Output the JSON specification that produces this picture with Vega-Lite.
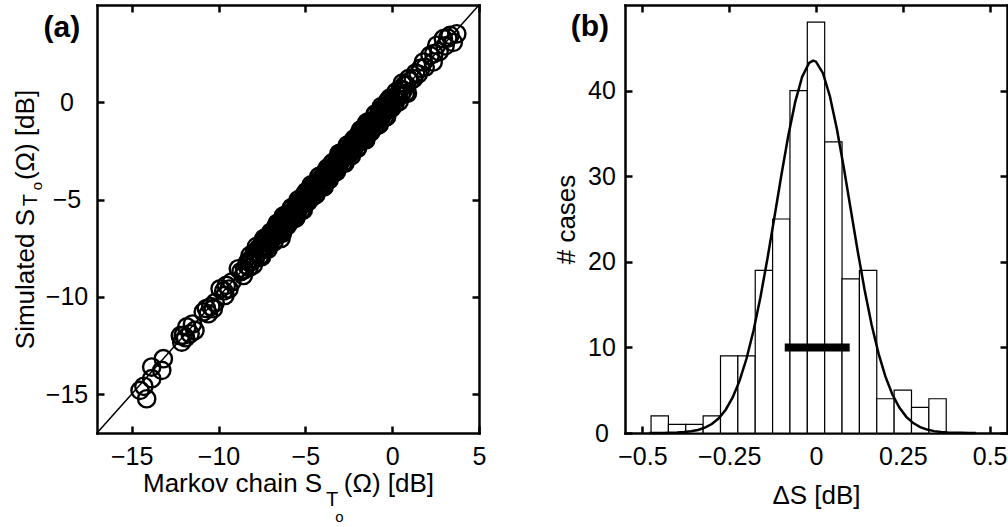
{
  "$schema": "https://vega.github.io/schema/vega-lite/v6.json",
  "background": "white",
  "padding": {"left": 12, "top": 2, "right": 0, "bottom": 0},
  "spacing": 67,
  "config": {
    "view": {"stroke": null},
    "font": "Liberation Sans",
    "axis": {
      "grid": false,
      "domainColor": "black", "domainWidth": 2.5, "domainCap": "square",
      "tickColor": "black", "tickWidth": 2.5, "tickSize": -7,
      "labelFont": "Liberation Sans", "labelFontSize": 25, "labelColor": "black",
      "labelFlush": false, "labelOverlap": false, "labelBound": false,
      "titleFont": "Liberation Sans", "titleFontSize": 26, "titleFontWeight": "normal", "titleColor": "black"
    }
  },
  "datasets": {
    "scatter": [
      {"m":-14.52,"s":-14.81},{"m":-14.14,"s":-15.24},{"m":-13.85,"s":-14.21},{"m":-13.85,"s":-13.61},{"m":-13.27,"s":-13.78},{"m":-13.18,"s":-13.18},{"m":-14.3,"s":-14.6},
      {"m":-12.12,"s":-12.33},{"m":-12.03,"s":-11.98},{"m":-11.83,"s":-11.55},{"m":-11.64,"s":-11.9},{"m":-11.36,"s":-11.73},{"m":-12.2,"s":-12.0},{"m":-11.5,"s":-11.4},{"m":-11.9,"s":-12.1},
      {"m":-10.88,"s":-10.78},{"m":-10.59,"s":-10.87},{"m":-10.3,"s":-10.61},{"m":-10.7,"s":-10.6},{"m":-10.45,"s":-10.5},{"m":-10.2,"s":-10.3},
      {"m":-9.91,"s":-9.59},{"m":-9.63,"s":-9.93},{"m":-9.55,"s":-9.41},{"m":-9.24,"s":-9.24},{"m":-9.7,"s":-9.7},{"m":-9.4,"s":-9.6},
      {"m":-8.86,"s":-8.56},{"m":-8.57,"s":-8.9},{"m":-8.38,"s":-8.38},{"m":-8.7,"s":-8.7},{"m":-8.5,"s":-8.6},{"m":-6.4,"s":-7.0},
      {"m":-8.30,"s":-8.18},{"m":-8.24,"s":-8.49},{"m":-8.18,"s":-7.87},{"m":-8.12,"s":-8.20},{"m":-8.06,"s":-8.04},{"m":-8.00,"s":-8.36},{"m":-7.94,"s":-7.72},{"m":-7.88,"s":-8.03},{"m":-7.82,"s":-7.42},{"m":-7.76,"s":-7.78},
      {"m":-7.70,"s":-7.52},{"m":-7.64,"s":-7.94},{"m":-7.58,"s":-7.51},{"m":-7.52,"s":-7.94},{"m":-7.46,"s":-7.19},{"m":-7.40,"s":-7.52},{"m":-7.34,"s":-6.99},{"m":-7.28,"s":-7.48},{"m":-7.22,"s":-7.17},{"m":-7.16,"s":-7.21},
      {"m":-7.10,"s":-6.98},{"m":-7.04,"s":-7.29},{"m":-6.98,"s":-6.67},{"m":-6.92,"s":-7.00},{"m":-6.86,"s":-6.84},{"m":-6.80,"s":-7.16},{"m":-6.74,"s":-6.52},{"m":-6.68,"s":-6.83},{"m":-6.62,"s":-6.22},{"m":-6.56,"s":-6.58},
      {"m":-6.50,"s":-6.32},{"m":-6.44,"s":-6.74},{"m":-6.38,"s":-6.31},{"m":-6.32,"s":-6.74},{"m":-6.26,"s":-5.99},{"m":-6.20,"s":-6.32},{"m":-6.14,"s":-5.79},{"m":-6.08,"s":-6.28},{"m":-6.02,"s":-5.97},{"m":-5.96,"s":-6.01},
      {"m":-5.90,"s":-5.78},{"m":-5.84,"s":-6.09},{"m":-5.78,"s":-5.47},{"m":-5.72,"s":-5.80},{"m":-5.66,"s":-5.64},{"m":-5.60,"s":-5.96},{"m":-5.54,"s":-5.32},{"m":-5.48,"s":-5.63},{"m":-5.42,"s":-5.02},{"m":-5.36,"s":-5.38},
      {"m":-5.30,"s":-5.12},{"m":-5.24,"s":-5.54},{"m":-5.18,"s":-5.11},{"m":-5.12,"s":-5.54},{"m":-5.06,"s":-4.79},{"m":-5.00,"s":-5.12},{"m":-4.94,"s":-4.59},{"m":-4.88,"s":-5.08},{"m":-4.82,"s":-4.77},{"m":-4.76,"s":-4.81},
      {"m":-4.70,"s":-4.58},{"m":-4.64,"s":-4.89},{"m":-4.58,"s":-4.27},{"m":-4.52,"s":-4.60},{"m":-4.46,"s":-4.44},{"m":-4.40,"s":-4.76},{"m":-4.34,"s":-4.12},{"m":-4.28,"s":-4.43},{"m":-4.22,"s":-3.82},{"m":-4.16,"s":-4.18},
      {"m":-4.10,"s":-3.92},{"m":-4.04,"s":-4.34},{"m":-3.98,"s":-3.91},{"m":-3.92,"s":-4.34},{"m":-3.86,"s":-3.59},{"m":-3.80,"s":-3.92},{"m":-3.74,"s":-3.39},{"m":-3.68,"s":-3.88},{"m":-3.62,"s":-3.57},{"m":-3.56,"s":-3.61},
      {"m":-3.50,"s":-3.38},{"m":-3.44,"s":-3.69},{"m":-3.38,"s":-3.07},{"m":-3.32,"s":-3.40},{"m":-3.26,"s":-3.24},{"m":-3.20,"s":-3.56},{"m":-3.14,"s":-2.92},{"m":-3.08,"s":-3.23},{"m":-3.02,"s":-2.62},{"m":-2.96,"s":-2.98},
      {"m":-2.90,"s":-2.72},{"m":-2.84,"s":-3.14},{"m":-2.78,"s":-2.71},{"m":-2.72,"s":-3.14},{"m":-2.66,"s":-2.39},{"m":-2.60,"s":-2.72},{"m":-2.54,"s":-2.19},{"m":-2.48,"s":-2.68},{"m":-2.42,"s":-2.37},{"m":-2.36,"s":-2.41},
      {"m":-2.30,"s":-2.18},{"m":-2.24,"s":-2.49},{"m":-2.18,"s":-1.87},{"m":-2.12,"s":-2.20},{"m":-2.06,"s":-2.04},{"m":-2.00,"s":-2.36},{"m":-1.94,"s":-1.72},{"m":-1.88,"s":-2.03},{"m":-1.82,"s":-1.42},{"m":-1.76,"s":-1.78},
      {"m":-1.70,"s":-1.52},{"m":-1.64,"s":-1.94},{"m":-1.58,"s":-1.51},{"m":-1.52,"s":-1.94},{"m":-1.46,"s":-1.19},{"m":-1.40,"s":-1.52},{"m":-1.34,"s":-0.99},{"m":-1.28,"s":-1.48},{"m":-1.22,"s":-1.17},{"m":-1.16,"s":-1.21},
      {"m":-1.10,"s":-0.98},{"m":-1.04,"s":-1.29},{"m":-0.98,"s":-0.67},{"m":-0.92,"s":-1.00},{"m":-0.86,"s":-0.84},{"m":-0.80,"s":-1.16},{"m":-0.74,"s":-0.52},{"m":-0.68,"s":-0.83},{"m":-0.62,"s":-0.22},{"m":-0.56,"s":-0.58},
      {"m":-0.50,"s":-0.32},{"m":-0.44,"s":-0.74},{"m":-0.38,"s":-0.31},{"m":-0.32,"s":-0.74},{"m":-0.26,"s":0.01},{"m":-0.20,"s":-0.32},{"m":-0.14,"s":0.21},{"m":-0.08,"s":-0.28},{"m":-0.02,"s":0.03},{"m":0.04,"s":-0.01},
      {"m":0.10,"s":0.22},{"m":0.16,"s":-0.09},{"m":0.22,"s":0.53},{"m":0.28,"s":0.20},{"m":0.34,"s":0.36},{"m":0.40,"s":0.04},{"m":0.46,"s":0.68},{"m":0.52,"s":0.37},{"m":0.58,"s":0.98},{"m":0.64,"s":0.62},
      {"m":0.70,"s":0.88},{"m":0.76,"s":0.46},{"m":0.82,"s":0.89},{"m":0.88,"s":0.46},{"m":0.94,"s":1.21},
      {"m":1.05,"s":1.1},{"m":1.22,"s":1.21},{"m":1.35,"s":1.5},{"m":1.5,"s":1.45},{"m":1.65,"s":1.75},{"m":1.80,"s":2.07},{"m":1.9,"s":1.8},{"m":2.18,"s":2.41},{"m":2.36,"s":2.07},{"m":2.4,"s":2.5},
      {"m":2.57,"s":2.93},{"m":2.7,"s":2.6},{"m":2.95,"s":3.27},{"m":3.05,"s":2.9},{"m":3.2,"s":3.3},{"m":3.33,"s":3.44},{"m":3.52,"s":3.08},{"m":3.72,"s":3.52},
      {"m":-7.63,"s":-7.93},{"m":-7.55,"s":-7.40},{"m":-7.47,"s":-7.52},{"m":-7.39,"s":-7.01},{"m":-7.31,"s":-7.53},{"m":-7.23,"s":-7.13},{"m":-7.15,"s":-7.55},{"m":-7.07,"s":-6.79},{"m":-6.99,"s":-7.11},{"m":-6.91,"s":-6.71},
      {"m":-6.83,"s":-7.18},{"m":-6.75,"s":-6.75},{"m":-6.67,"s":-6.35},{"m":-6.59,"s":-6.77},{"m":-6.51,"s":-6.43},{"m":-6.43,"s":-6.70},{"m":-6.35,"s":-6.22},{"m":-6.27,"s":-5.85},{"m":-6.19,"s":-6.29},{"m":-6.11,"s":-5.86},
      {"m":-6.03,"s":-6.33},{"m":-5.95,"s":-5.80},{"m":-5.87,"s":-5.92},{"m":-5.79,"s":-5.41},{"m":-5.71,"s":-5.93},{"m":-5.63,"s":-5.53},{"m":-5.55,"s":-5.95},{"m":-5.47,"s":-5.19},{"m":-5.39,"s":-5.51},{"m":-5.31,"s":-5.11},
      {"m":-5.23,"s":-5.58},{"m":-5.15,"s":-5.15},{"m":-5.07,"s":-4.75},{"m":-4.99,"s":-5.17},{"m":-4.91,"s":-4.83},{"m":-4.83,"s":-5.10},{"m":-4.75,"s":-4.62},{"m":-4.67,"s":-4.25},{"m":-4.59,"s":-4.69},{"m":-4.51,"s":-4.26},
      {"m":-4.43,"s":-4.73},{"m":-4.35,"s":-4.20},{"m":-4.27,"s":-4.32},{"m":-4.19,"s":-3.81},{"m":-4.11,"s":-4.33},{"m":-4.03,"s":-3.93},{"m":-3.95,"s":-4.35},{"m":-3.87,"s":-3.59},{"m":-3.79,"s":-3.91},{"m":-3.71,"s":-3.51},
      {"m":-3.63,"s":-3.98},{"m":-3.55,"s":-3.55},{"m":-3.47,"s":-3.15},{"m":-3.39,"s":-3.57},{"m":-3.31,"s":-3.23},{"m":-3.23,"s":-3.50},{"m":-3.15,"s":-3.02},{"m":-3.07,"s":-2.65},{"m":-2.99,"s":-3.09},{"m":-2.91,"s":-2.66},
      {"m":-2.83,"s":-3.13},{"m":-2.75,"s":-2.60},{"m":-2.67,"s":-2.72},{"m":-2.59,"s":-2.21},{"m":-2.51,"s":-2.73},{"m":-2.43,"s":-2.33},{"m":-2.35,"s":-2.75},{"m":-2.27,"s":-1.99},{"m":-2.19,"s":-2.31},{"m":-2.11,"s":-1.91},
      {"m":-2.03,"s":-2.38},{"m":-1.95,"s":-1.95},{"m":-1.87,"s":-1.55},{"m":-1.79,"s":-1.97},{"m":-1.71,"s":-1.63},{"m":-1.63,"s":-1.90},{"m":-1.55,"s":-1.42},{"m":-1.47,"s":-1.05},{"m":-1.39,"s":-1.49},{"m":-1.31,"s":-1.06},
      {"m":-1.23,"s":-1.53},{"m":-1.15,"s":-1.00},{"m":-1.07,"s":-1.12},{"m":-0.99,"s":-0.61},{"m":-0.91,"s":-1.13},{"m":-0.83,"s":-0.73},{"m":-0.75,"s":-1.15},{"m":-0.67,"s":-0.39},{"m":-0.59,"s":-0.71},{"m":-0.51,"s":-0.31},
      {"m":-0.43,"s":-0.78},{"m":-0.35,"s":-0.35},{"m":-0.27,"s":0.05},{"m":-0.19,"s":-0.37},{"m":-0.11,"s":-0.03},{"m":-0.03,"s":-0.30}
    ],
    "hist": [
      {"lo":-0.475,"hi":-0.425,"n":2},{"lo":-0.425,"hi":-0.375,"n":1},{"lo":-0.375,"hi":-0.325,"n":1},{"lo":-0.325,"hi":-0.275,"n":2},
      {"lo":-0.275,"hi":-0.225,"n":9},{"lo":-0.225,"hi":-0.175,"n":9},{"lo":-0.175,"hi":-0.125,"n":19},{"lo":-0.125,"hi":-0.075,"n":25},
      {"lo":-0.075,"hi":-0.025,"n":40},{"lo":-0.025,"hi":0.025,"n":48},{"lo":0.025,"hi":0.075,"n":34},{"lo":0.075,"hi":0.125,"n":18},
      {"lo":0.125,"hi":0.175,"n":19},{"lo":0.175,"hi":0.225,"n":4},{"lo":0.225,"hi":0.275,"n":5},{"lo":0.275,"hi":0.325,"n":3},{"lo":0.325,"hi":0.375,"n":4}
    ],
    "fit": [
      {"dx":-0.48,"f":0.003},{"dx":-0.46,"f":0.006},{"dx":-0.44,"f":0.013},{"dx":-0.42,"f":0.026},{"dx":-0.40,"f":0.053},{"dx":-0.38,"f":0.104},
      {"dx":-0.36,"f":0.195},{"dx":-0.34,"f":0.354},{"dx":-0.32,"f":0.62},{"dx":-0.30,"f":1.05},{"dx":-0.28,"f":1.72},{"dx":-0.26,"f":2.72},
      {"dx":-0.24,"f":4.15},{"dx":-0.22,"f":6.11},{"dx":-0.20,"f":8.70},{"dx":-0.18,"f":11.95},{"dx":-0.16,"f":15.86},{"dx":-0.14,"f":20.33},
      {"dx":-0.12,"f":25.15},{"dx":-0.10,"f":30.06},{"dx":-0.08,"f":34.69},{"dx":-0.06,"f":38.65},{"dx":-0.04,"f":41.60},{"dx":-0.02,"f":43.23},
      {"dx":-0.008,"f":43.5},{"dx":0.00,"f":43.38},{"dx":0.02,"f":42.03},{"dx":0.04,"f":39.34},{"dx":0.06,"f":35.55},{"dx":0.08,"f":31.02},{"dx":0.10,"f":26.14},
      {"dx":0.12,"f":21.27},{"dx":0.14,"f":16.71},{"dx":0.16,"f":12.68},{"dx":0.18,"f":9.30},{"dx":0.20,"f":6.58},{"dx":0.22,"f":4.49},
      {"dx":0.24,"f":2.97},{"dx":0.26,"f":1.89},{"dx":0.28,"f":1.16},{"dx":0.30,"f":0.69},{"dx":0.32,"f":0.40},{"dx":0.34,"f":0.22},
      {"dx":0.36,"f":0.117},{"dx":0.38,"f":0.061},{"dx":0.40,"f":0.030},{"dx":0.42,"f":0.015},{"dx":0.44,"f":0.007},{"dx":0.46,"f":0.003}
    ]
  },
  "hconcat": [
    {
      "width": 382, "height": 428,
      "layer": [
        {
          "data": {"values": [{"m":-17,"s":-17},{"m":5,"s":5}]},
          "mark": {"type": "line", "color": "black", "strokeWidth": 1.5},
          "encoding": {
            "x": {"field": "m", "type": "quantitative", "scale": {"domain": [-17, 5], "nice": false, "zero": false},
                  "axis": {"orient": "bottom", "values": [-15,-10,-5,0,5], "format": "d", "title": "Markov chain S\u00a0\u00a0\u00a0(Ω) [dB]", "labelPadding": 18.5, "titlePadding": 1}},
            "y": {"field": "s", "type": "quantitative", "scale": {"domain": [-17, 5], "nice": false, "zero": false},
                  "axis": {"orient": "left", "values": [-15,-10,-5,0], "format": "d", "title": "Simulated S\u00a0\u00a0\u00a0\u00a0(Ω) [dB]", "labelAlign": "center", "labelPadding": 37.5, "titlePadding": 7}}
          }
        },
        {
          "data": {"name": "scatter"},
          "mark": {"type": "point", "shape": "circle", "filled": false, "stroke": "black", "strokeWidth": 2.4, "size": 300, "opacity": 1},
          "encoding": {
            "x": {"field": "m", "type": "quantitative", "axis": {"orient": "top", "values": [-15,-10,-5,0,5], "labels": false, "title": null}},
            "y": {"field": "s", "type": "quantitative", "axis": {"orient": "right", "values": [-15,-10,-5,0], "labels": false, "title": null}}
          }
        },
        {
          "data": {"values": [{}]},
          "mark": {"type": "text", "text": "(a)", "font": "Liberation Sans", "fontWeight": "bold", "fontSize": 30, "align": "center", "baseline": "middle", "color": "black"},
          "encoding": {"x": {"datum": -19.02, "axis": null}, "y": {"datum": 3.82, "axis": null}}
        },
        {
          "data": {"values": [{}]},
          "mark": {"type": "text", "text": "T", "font": "Liberation Sans", "fontSize": 20, "align": "center", "baseline": "middle", "color": "black"},
          "encoding": {"x": {"datum": -3.46, "axis": null}, "y": {"datum": -20.45, "axis": null}}
        },
        {
          "data": {"values": [{}]},
          "mark": {"type": "text", "text": "o", "font": "Liberation Sans", "fontSize": 15, "align": "center", "baseline": "middle", "color": "black"},
          "encoding": {"x": {"datum": -3.04, "axis": null}, "y": {"datum": -21.32, "axis": null}}
        },
        {
          "data": {"values": [{}]},
          "mark": {"type": "text", "text": "T", "angle": 270, "font": "Liberation Sans", "fontSize": 20, "align": "center", "baseline": "middle", "color": "black"},
          "encoding": {"x": {"datum": -20.8, "axis": null}, "y": {"datum": -5.03, "axis": null}}
        },
        {
          "data": {"values": [{}]},
          "mark": {"type": "text", "text": "o", "angle": 270, "font": "Liberation Sans", "fontSize": 15, "align": "center", "baseline": "middle", "color": "black"},
          "encoding": {"x": {"datum": -20.46, "axis": null}, "y": {"datum": -4.31, "axis": null}}
        }
      ],
      "resolve": {"axis": {"x": "independent", "y": "independent"}}
    },
    {
      "width": 382, "height": 428,
      "layer": [
        {
          "data": {"name": "hist"},
          "mark": {"type": "rect", "fill": "white", "stroke": "black", "strokeWidth": 1.2},
          "encoding": {
            "x": {"field": "lo", "type": "quantitative", "scale": {"domain": [-0.55, 0.55], "nice": false, "zero": false},
                  "axis": {"orient": "bottom", "values": [-0.5,-0.25,0,0.25,0.5], "format": ".2~f", "title": "ΔS [dB]", "labelPadding": 18.5, "titlePadding": 13}},
            "x2": {"field": "hi"},
            "y": {"field": "n", "type": "quantitative", "scale": {"domain": [0, 50], "nice": false, "zero": false},
                  "axis": {"orient": "left", "values": [0,10,20,30,40], "format": "d", "title": "# cases", "labelAlign": "center", "labelPadding": 30.5, "titlePadding": 8}},
            "y2": {"datum": 0}
          }
        },
        {
          "data": {"name": "fit"},
          "mark": {"type": "line", "color": "black", "strokeWidth": 2.5},
          "encoding": {
            "x": {"field": "dx", "type": "quantitative", "axis": {"orient": "top", "values": [-0.5,-0.25,0,0.25,0.5], "labels": false, "title": null}},
            "y": {"field": "f", "type": "quantitative", "axis": {"orient": "right", "values": [0,10,20,30,40], "labels": false, "title": null}}
          }
        },
        {
          "data": {"values": [{}]},
          "mark": {"type": "rule", "color": "black", "strokeWidth": 8, "strokeCap": "butt"},
          "encoding": {"x": {"datum": -0.09, "axis": null}, "x2": {"datum": 0.097}, "y": {"datum": 10, "axis": null}}
        },
        {
          "data": {"values": [{}]},
          "mark": {"type": "text", "text": "(b)", "font": "Liberation Sans", "fontWeight": "bold", "fontSize": 30, "align": "center", "baseline": "middle", "color": "black"},
          "encoding": {"x": {"datum": -0.651, "axis": null}, "y": {"datum": 47.43, "axis": null}}
        }
      ],
      "resolve": {"axis": {"x": "independent", "y": "independent"}}
    }
  ]
}
